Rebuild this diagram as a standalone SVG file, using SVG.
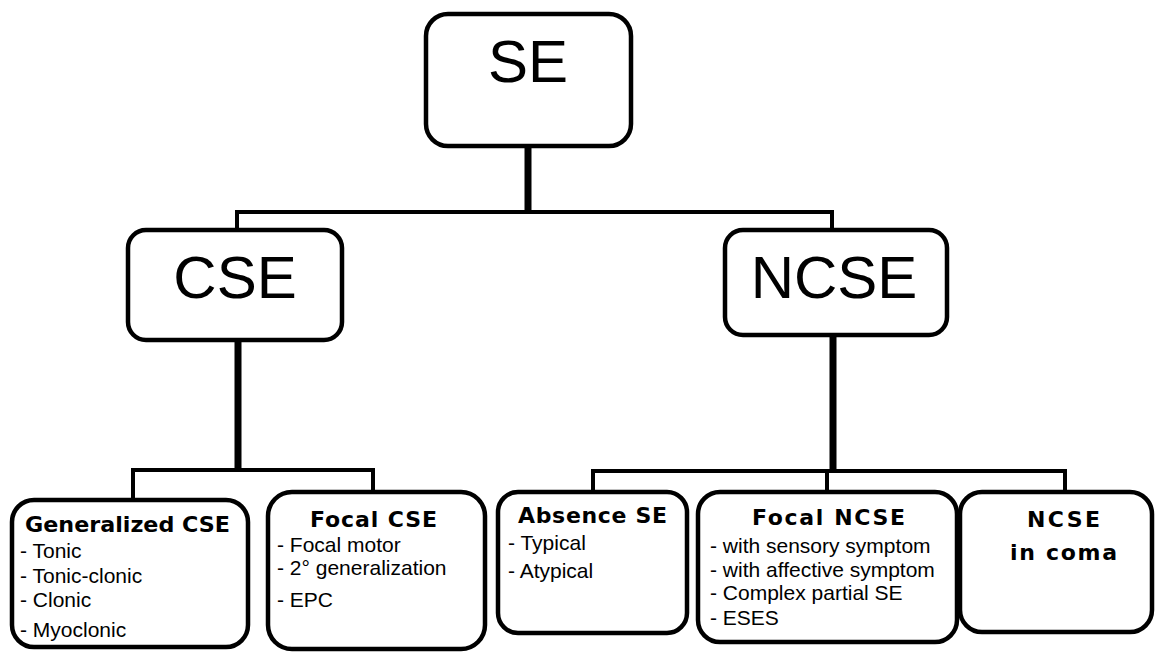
<svg xmlns="http://www.w3.org/2000/svg" width="1156" height="652" viewBox="0 0 1156 652">
<style>
.box{fill:#fff;stroke:#000;stroke-width:4.5}
.big{font-family:"Liberation Sans",Arial,sans-serif;font-size:60px;fill:#000;text-anchor:middle}
.ttl{font-family:"DejaVu Sans",Verdana,sans-serif;font-weight:bold;font-size:22px;fill:#000}
.it{font-family:"Liberation Sans",Arial,sans-serif;font-size:21px;fill:#000}
.ln{fill:none;stroke:#000;stroke-width:4;stroke-linecap:square}
.thick{fill:none;stroke:#000;stroke-width:7}
</style>
<rect width="1156" height="652" fill="#fff"/>
<g id="connectors">
<line class="thick" x1="528" y1="146" x2="528" y2="213"/>
<polyline class="ln" points="237,230 237,212 832,212 832,230"/>
<line class="thick" x1="238" y1="340" x2="238" y2="472"/>
<polyline class="ln" points="133,500 133,470 373,470 373,492"/>
<line class="thick" x1="833" y1="335" x2="833" y2="472"/>
<polyline class="ln" points="593,492 593,471 1065,471 1065,492"/>
<line class="ln" x1="827" y1="471" x2="827" y2="492"/>
</g>
<g id="SE">
<rect class="box" x="426" y="14" width="205" height="132" rx="22"/>
<text class="big" x="528" y="82" font-size="62">SE</text>
</g>
<g id="CSE">
<rect class="box" x="128" y="230" width="214" height="110" rx="18"/>
<text class="big" x="235" y="298">CSE</text>
</g>
<g id="NCSE">
<rect class="box" x="725" y="230" width="222" height="105" rx="18"/>
<text class="big" x="834" y="298">NCSE</text>
</g>
<g id="generalized-cse">
<rect class="box" x="12" y="500" width="236" height="147" rx="22"/>
<text class="ttl" x="25" y="532" font-size="24" textLength="205" lengthAdjust="spacingAndGlyphs">Generalized CSE</text>
<text class="it" x="20" y="558">- Tonic</text>
<text class="it" x="20" y="583">- Tonic-clonic</text>
<text class="it" x="20" y="607">- Clonic</text>
<text class="it" x="20" y="637">- Myoclonic</text>
</g>
<g id="focal-cse">
<rect class="box" x="268" y="492" width="217" height="157" rx="24"/>
<text class="ttl" x="310" y="527" textLength="127" lengthAdjust="spacing">Focal CSE</text>
<text class="it" x="277" y="552">- Focal motor</text>
<text class="it" x="277" y="575">- 2° generalization</text>
<text class="it" x="277" y="607">- EPC</text>
</g>
<g id="absence-se">
<rect class="box" x="498" y="492" width="189" height="141" rx="20"/>
<text class="ttl" x="518" y="523" textLength="149" lengthAdjust="spacing">Absence SE</text>
<text class="it" x="508" y="550">- Typical</text>
<text class="it" x="508" y="578">- Atypical</text>
</g>
<g id="focal-ncse">
<rect class="box" x="698" y="492" width="259" height="150" rx="22"/>
<text class="ttl" x="752" y="525" textLength="153" lengthAdjust="spacing">Focal NCSE</text>
<text class="it" x="710" y="553">- with sensory symptom</text>
<text class="it" x="710" y="577">- with affective symptom</text>
<text class="it" x="710" y="600">- Complex partial SE</text>
<text class="it" x="710" y="625">- ESES</text>
</g>
<g id="ncse-in-coma">
<rect class="box" x="960" y="492" width="192" height="140" rx="22"/>
<text class="ttl" x="1027" y="527" textLength="73" lengthAdjust="spacing">NCSE</text>
<text class="ttl" x="1010" y="560" textLength="107" lengthAdjust="spacing">in coma</text>
</g>
</svg>
